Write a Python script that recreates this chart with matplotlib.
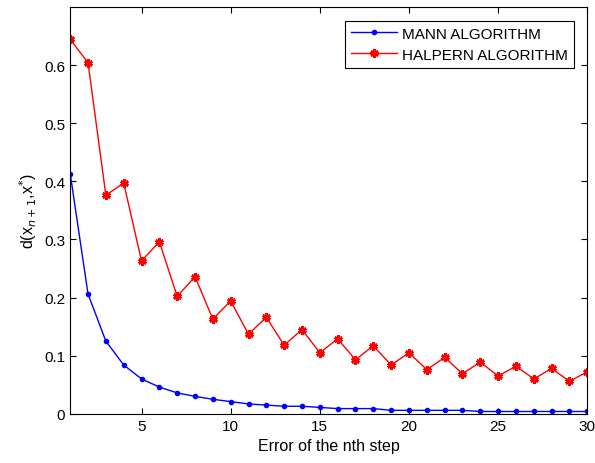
import numpy as np
import matplotlib.pyplot as plt

plt.rcParams['font.family'] = ['Liberation Sans', 'DejaVu Sans']

steps = list(range(1, 31))
mann = [0.413, 0.206, 0.125, 0.084, 0.060, 0.046, 0.036, 0.030, 0.025, 0.021,
        0.017, 0.015, 0.013, 0.013, 0.011, 0.009, 0.009, 0.009, 0.006, 0.006,
        0.006, 0.006, 0.006, 0.004, 0.004, 0.004, 0.004, 0.004, 0.004, 0.004]
halpern = [0.644, 0.604, 0.376, 0.397, 0.263, 0.296, 0.202, 0.236, 0.163, 0.194,
           0.137, 0.166, 0.118, 0.145, 0.105, 0.129, 0.093, 0.117, 0.084, 0.105,
           0.076, 0.097, 0.069, 0.089, 0.065, 0.082, 0.060, 0.078, 0.056, 0.072]

fig = plt.figure(figsize=(5.95, 4.64), dpi=100)
ax = fig.add_axes([0.118, 0.106, 0.869, 0.877])

ax.plot(steps, mann, color='blue', marker='.', markersize=6, linewidth=1,
        label='MANN ALGORITHM')
ax.plot(steps, halpern, color='red', marker=(6, 2, 0), markersize=6,
        markeredgewidth=2.0, linewidth=1, label='HALPERN ALGORITHM')

ax.set_xlim(1, 30)
ax.set_ylim(0, 0.7)
ax.set_xticks([5, 10, 15, 20, 25, 30])
ax.set_yticks([0, 0.1, 0.2, 0.3, 0.4, 0.5, 0.6])
ax.set_yticklabels(['0', '0.1', '0.2', '0.3', '0.4', '0.5', '0.6'])
ax.tick_params(direction='in', top=True, right=True, labelsize=11, length=4)

ax.set_xlabel('Error of the nth step', fontsize=11.5)
ax.set_ylabel(r'd(x$_{n+1}$,x$^{*}$)', fontsize=11.5)

leg = ax.legend(loc='upper right', fontsize=11, fancybox=False, framealpha=1,
                edgecolor='black', borderaxespad=0.9, handlelength=3.0,
                handletextpad=0.3, borderpad=0.4, labelspacing=0.45)
leg.get_frame().set_linewidth(0.8)

fig.savefig('out.png', dpi=100)
